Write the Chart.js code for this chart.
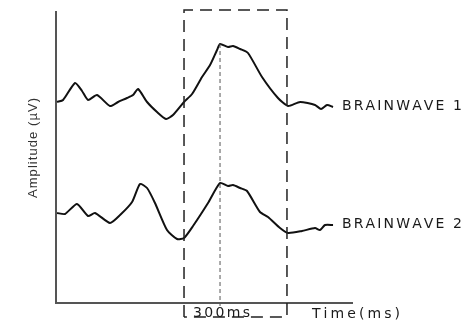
<!DOCTYPE html>
<html><head><meta charset="utf-8">
<script src="https://cdn.jsdelivr.net/npm/chart.js@4"></script>
<style>html,body{margin:0;padding:0;background:#fff}</style>
</head><body>
<canvas id="c" width="475" height="324"></canvas>
<script>
// Time in ms relative to stimulus onset (window start), amplitude in arbitrary units
const wave1Time = [-1058,-1008,-908,-850,-800,-725,-617,-550,-475,-425,-383,-308,-225,-150,-92,0,67,150,217,275,300,367,408,467,533,650,783,867,967,1092,1142,1192,1242];
const wave1Amp  = [20.1,20.3,22.0,21.2,20.3,20.8,19.7,20.1,20.5,20.8,21.4,20.1,19.1,18.4,18.8,20.1,20.9,22.6,23.8,25.3,25.9,25.6,25.7,25.4,25.0,22.6,20.5,19.7,20.1,19.8,19.4,19.8,19.6];
const wave2Time = [-1058,-992,-892,-800,-742,-617,-533,-433,-367,-308,-242,-142,-58,0,75,200,300,367,408,467,525,633,700,800,867,983,1092,1133,1175,1242];
const wave2Amp  = [9.0,8.9,9.9,8.7,9.0,8.0,8.8,10.1,11.9,11.5,10.0,7.3,6.4,6.5,7.7,10.0,12.0,11.7,11.8,11.5,11.2,9.1,8.6,7.5,7.0,7.2,7.5,7.3,7.8,7.8];
const seriesNames = ['BRAINWAVE 1','BRAINWAVE 2'];
const windowStartMs = 0, peakMs = 300, windowEndMs = 858;
const xMin = -1067, xMax = 1400, yMin = 0, yMax = 29.1;
const boxTop = 29.3, boxBottom = -1.4;
const windowLabel = '300ms', xTitle = 'Time(ms)', yTitle = 'Amplitude (\u00B5V)';

function spaced(ctx, str, x, y, width) {
  const chars = [...str];
  const total = chars.reduce((s,c)=>s+ctx.measureText(c).width,0);
  const gap = chars.length>1 ? (width-total)/(chars.length-1) : 0;
  let cx = x;
  ctx.textAlign = 'left';
  for (const c of chars) { ctx.fillText(c, cx, y); cx += ctx.measureText(c).width + gap; }
}

const overlay = {
  id:'overlay',
  afterDraw(chart){
    const {ctx, scales:{x, y}} = chart;
    ctx.save();
    const L = x.getPixelForValue(windowStartMs), R = x.getPixelForValue(windowEndMs);
    const T = y.getPixelForValue(boxTop), B = y.getPixelForValue(boxBottom);
    ctx.strokeStyle = '#222'; ctx.lineWidth = 1.5; ctx.setLineDash([12,7]);
    ctx.beginPath();
    ctx.moveTo(L,B); ctx.lineTo(L,T); ctx.lineTo(R,T); ctx.lineTo(R,B); ctx.lineTo(L,B);
    ctx.stroke();
    const P = x.getPixelForValue(peakMs);
    const peakVal = Math.max(...wave1Amp);
    ctx.strokeStyle = '#555'; ctx.lineWidth = 1; ctx.setLineDash([4,3]);
    ctx.beginPath(); ctx.moveTo(P, y.getPixelForValue(peakVal)); ctx.lineTo(P, y.bottom+5); ctx.stroke();
    ctx.setLineDash([]);
    ctx.textBaseline = 'middle';
    ctx.font = '14px "DejaVu Sans", sans-serif';
    ctx.fillStyle = '#fff'; ctx.fillRect(L+8, B-11, 58, 10);
    ctx.fillStyle = '#1a1a1a';
    spaced(ctx, windowLabel, L+9, B-4, 57);
    spaced(ctx, xTitle, x.right-40, y.bottom+11, 88);
    const ends = [wave1Amp[wave1Amp.length-1], wave2Amp[wave2Amp.length-1]];
    ends.forEach((v,i)=>{
      spaced(ctx, seriesNames[i], x.right-10, y.getPixelForValue(v)-1, 120);
    });
    ctx.save();
    ctx.translate(33, 148); ctx.rotate(-Math.PI/2);
    ctx.fillStyle = '#333'; ctx.font = '13px "Liberation Sans", Arial, sans-serif';
    spaced(ctx, yTitle, -50, 0, 100);
    ctx.restore();
    ctx.restore();
  }
};

new Chart(document.getElementById('c'), {
  type:'line',
  data:{datasets:[
    {label:seriesNames[0], data:wave1Time.map((t,i)=>({x:t,y:wave1Amp[i]})), borderColor:'#111', borderWidth:2, pointRadius:0, tension:0.2, fill:false},
    {label:seriesNames[1], data:wave2Time.map((t,i)=>({x:t,y:wave2Amp[i]})), borderColor:'#111', borderWidth:2, pointRadius:0, tension:0.2, fill:false}
  ]},
  options:{
    responsive:false, animation:false,
    layout:{padding:{left:56,right:123,top:12,bottom:21}},
    plugins:{legend:{display:false}, tooltip:{enabled:false}},
    scales:{
      x:{type:'linear', min:xMin, max:xMax, ticks:{display:false}, grid:{display:false, drawTicks:false}, border:{display:true, color:'#555', width:2}, afterFit(s){s.height=0;}},
      y:{type:'linear', min:yMin, max:yMax, ticks:{display:false}, grid:{display:false, drawTicks:false}, border:{display:true, color:'#555', width:2}, afterFit(s){s.width=0;}}
    }
  },
  plugins:[overlay]
});
</script>
</body></html>
